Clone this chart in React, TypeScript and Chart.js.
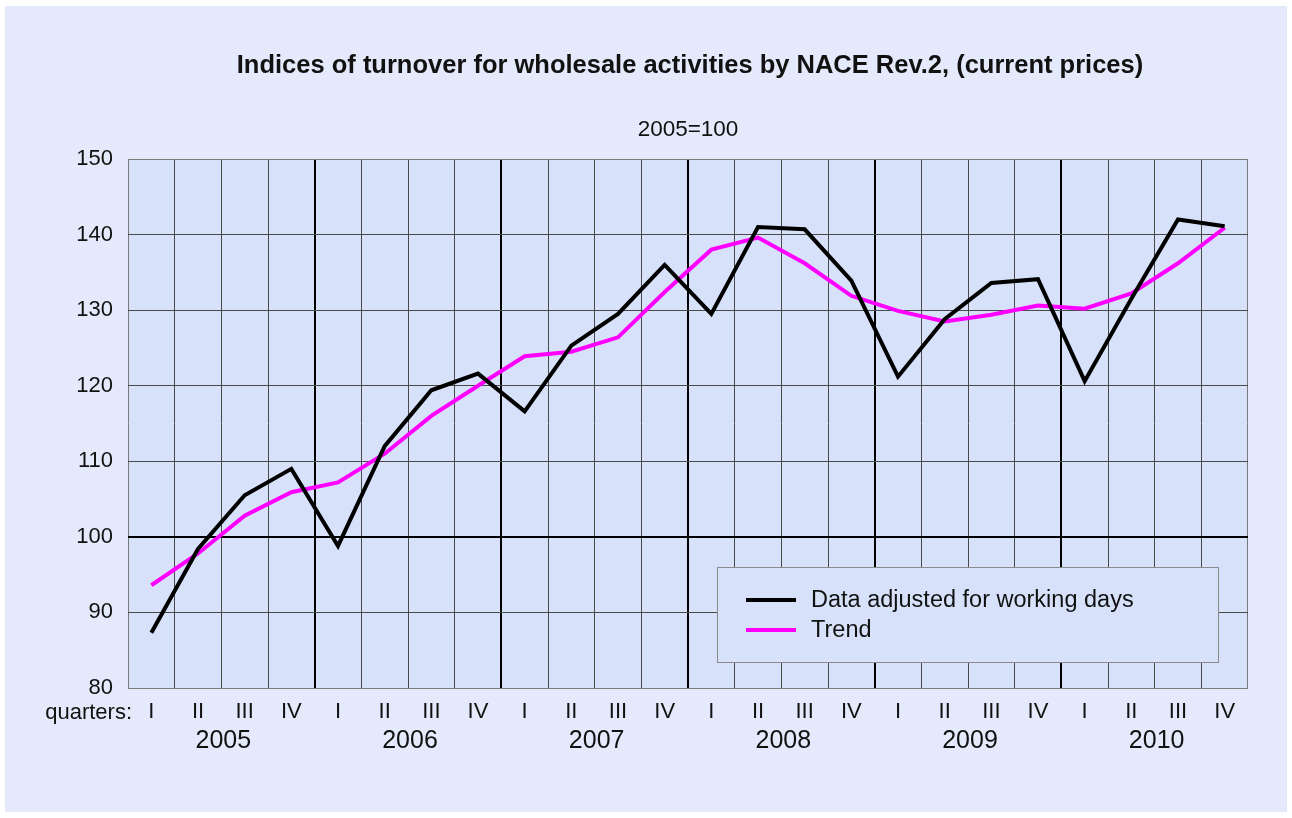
import React, { useEffect, useRef } from "react";
import { Chart, registerables } from "chart.js";

Chart.register(...registerables);

const quarterLabels = [
  "I", "II", "III", "IV", "I", "II", "III", "IV", "I", "II", "III", "IV",
  "I", "II", "III", "IV", "I", "II", "III", "IV", "I", "II", "III", "IV",
];
const years = ["2005", "2006", "2007", "2008", "2009", "2010"];
const adjustedData = [
  87.3, 98.4, 105.5, 109.0, 98.8, 112.0, 119.4, 121.6, 116.6, 125.3, 129.5, 136.0,
  129.5, 141.0, 140.7, 133.9, 121.2, 128.8, 133.6, 134.1, 120.6, 131.5, 142.0, 141.1,
];
const trendData = [
  93.6, 97.8, 102.8, 105.9, 107.2, 111.0, 116.0, 120.0, 123.9, 124.5, 126.4, 132.4,
  138.0, 139.6, 136.2, 131.9, 129.9, 128.5, 129.4, 130.6, 130.2, 132.2, 136.2, 140.9,
];
const yTicks = [80, 90, 100, 110, 120, 130, 140, 150];

const TITLE = "Indices of turnover for wholesale activities by NACE Rev.2, (current prices)";
const SUBTITLE = "2005=100";
const FONT = "'Liberation Sans', Arial, Helvetica, sans-serif";
const OUTER_BG = "#e4eafb";
const PLOT_BG = "#d7e2fa";

const decorPlugin = {
  id: "decor",
  beforeDraw(chart: any) {
    const { ctx, chartArea } = chart;
    ctx.save();
    ctx.fillStyle = "#ffffff";
    ctx.fillRect(0, 0, chart.width, chart.height);
    ctx.fillStyle = OUTER_BG;
    ctx.fillRect(5, 6, chart.width - 10, chart.height - 12);
    ctx.fillStyle = PLOT_BG;
    ctx.fillRect(chartArea.left, chartArea.top, chartArea.right - chartArea.left, chartArea.bottom - chartArea.top);
    ctx.restore();
  },
  afterDraw(chart: any) {
    const { ctx, chartArea } = chart;
    const xs = chart.scales.x;
    const cx = (chartArea.left + chartArea.right) / 2;
    ctx.save();
    ctx.fillStyle = "#111";
    ctx.textAlign = "center";
    ctx.textBaseline = "middle";
    ctx.font = `bold 25.5px ${FONT}`;
    ctx.fillText(TITLE, cx + 2, chartArea.top - 93);
    ctx.font = `22.5px ${FONT}`;
    ctx.fillText(SUBTITLE, cx, chartArea.top - 29);

    // "quarters:" label and year labels
    ctx.font = `22px ${FONT}`;
    ctx.textAlign = "right";
    ctx.fillText("quarters:", chartArea.left + 4, chartArea.bottom + 25);
    ctx.textAlign = "center";
    ctx.font = `25px ${FONT}`;
    years.forEach((y, i) => {
      const a = xs.getPixelForValue(i * 4 + 1);
      const b = xs.getPixelForValue(i * 4 + 2);
      ctx.fillText(y, (a + b) / 2 + 2, chartArea.bottom + 53);
    });

    // legend box
    const lx = chartArea.left + 589;
    const ly = chartArea.top + 408;
    const lw = 501;
    const lh = 95;
    ctx.fillStyle = PLOT_BG;
    ctx.fillRect(lx, ly, lw, lh);
    ctx.strokeStyle = "#8a8a8a";
    ctx.lineWidth = 1;
    ctx.strokeRect(lx + 0.5, ly + 0.5, lw, lh);
    const items = chart.data.datasets;
    items.forEach((ds: any, i: number) => {
      const yy = ly + 33 + i * 30;
      ctx.strokeStyle = ds.borderColor;
      ctx.lineWidth = 4;
      ctx.beginPath();
      ctx.moveTo(lx + 29, yy);
      ctx.lineTo(lx + 79, yy);
      ctx.stroke();
      ctx.fillStyle = "#111";
      ctx.textAlign = "left";
      ctx.textBaseline = "middle";
      ctx.font = `23.5px ${FONT}`;
      ctx.fillText(ds.label, lx + 94, yy + 1);
    });
    ctx.restore();
  },
};

export default function App() {
  const ref = useRef<HTMLCanvasElement | null>(null);
  useEffect(() => {
    if (!ref.current) return;
    const chart = new Chart(ref.current, {
      type: "line",
      data: {
        labels: quarterLabels,
        datasets: [
          {
            label: "Data adjusted for working days",
            data: adjustedData,
            borderColor: "#000000",
            borderWidth: 4,
            pointRadius: 0,
            tension: 0,
            fill: false,
          },
          {
            label: "Trend",
            data: trendData,
            borderColor: "#ff00ff",
            borderWidth: 4,
            pointRadius: 0,
            tension: 0,
            fill: false,
          },
        ],
      },
      options: {
        responsive: false,
        animation: false,
        devicePixelRatio: 1,
        layout: { padding: { left: 48, right: 44, top: 159, bottom: 30 } },
        plugins: {
          legend: { display: false },
          title: { display: false },
          tooltip: { enabled: false },
        },
        scales: {
          x: {
            type: "category",
            offset: true,
            afterFit: (s: any) => {
              s.height = 100;
            },
            border: { display: false },
            grid: {
              offset: true,
              drawTicks: false,
              color: (c: any) => {
                const i = c.index;
                if (i === undefined || i === 0) return "#7a7a7a";
                return i % 4 === 0 ? "#000000" : "#4a4a4a";
              },
              lineWidth: (c: any) => {
                const i = c.index;
                if (i === undefined || i === 0) return 1;
                return i % 4 === 0 ? 2 : 1;
              },
            },
            ticks: {
              color: "#111",
              padding: 11,
              maxRotation: 0,
              autoSkip: false,
              font: { family: FONT, size: 22 },
            },
          },
          y: {
            min: 80,
            max: 150,
            afterFit: (s: any) => {
              s.width = 80;
            },
            afterBuildTicks: (s: any) => {
              s.ticks = yTicks.map((v) => ({ value: v }));
            },
            border: { display: false },
            grid: {
              drawTicks: false,
              color: (c: any) => {
                const v = c.tick ? c.tick.value : null;
                if (v === 100) return "#000000";
                if (v === 80 || v === 150) return "#7a7a7a";
                return "#4a4a4a";
              },
              lineWidth: (c: any) => (c.tick && c.tick.value === 100 ? 2 : 1),
            },
            ticks: {
              color: "#111",
              padding: 15,
              font: { family: FONT, size: 22 },
            },
          },
        },
      },
      plugins: [decorPlugin],
    });
    return () => chart.destroy();
  }, []);
  return (
    <div style={{ position: "absolute", left: 0, top: 0, width: 1292, height: 818 }}>
      <canvas ref={ref} width={1292} height={818} style={{ display: "block" }} />
    </div>
  );
}
